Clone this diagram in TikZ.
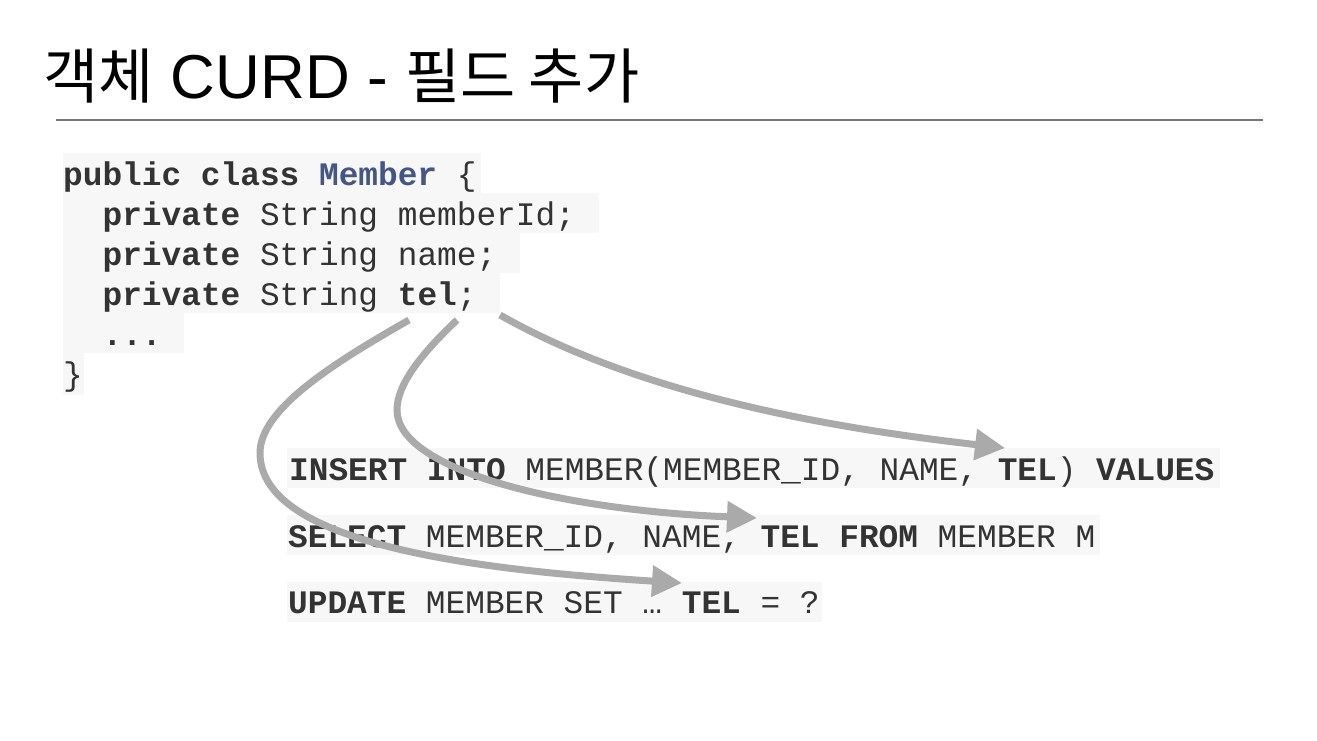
\documentclass[tikz,border=0pt]{standalone}
\usepackage{fontspec}
\setmainfont{Liberation Sans}
\setmonofont{Liberation Mono}
\newfontfamily\krfont{Noto Sans CJK KR}
\usetikzlibrary{arrows.meta}
\definecolor{codebg}{RGB}{247,247,247}
\definecolor{codetext}{RGB}{51,51,51}
\definecolor{classblue}{RGB}{68,85,136}
\definecolor{arrowgray}{RGB}{170,170,170}
\definecolor{rulegray}{RGB}{120,120,120}
\tikzset{
  codeline/.style={anchor=base west, inner sep=0pt, text=codetext,
    font=\ttfamily\fontsize{32.8}{40}\selectfont},
  bgbox/.style={fill=codebg, draw=none},
  tellink/.style={draw=arrowgray, line width=7pt,
    -{Triangle[length=30pt,width=30pt]}},
  titletext/.style={anchor=base west, inner sep=0pt, text=black,
    font=\fontsize{62}{70}\selectfont}
}
\begin{document}
\begin{tikzpicture}[x=1pt,y=-1pt]
\useasboundingbox (0,0) rectangle (1317,740);
% title
\node[titletext] (title) at (43,98) {{\krfont\fontsize{60}{70}\selectfont 객체} CURD - {\krfont\fontsize{60}{70}\selectfont 필드 추가}};
\draw[rulegray, line width=1.5pt] (56,120) -- (1263,120);
% code backgrounds
\fill[bgbox] (63,153) rectangle (481,193);
\fill[bgbox] (63,193) rectangle (599,233);
\fill[bgbox] (63,233) rectangle (520,273);
\fill[bgbox] (63,273) rectangle (500,313);
\fill[bgbox] (63,313) rectangle (184,353);
\fill[bgbox] (63,353) rectangle (84,395);
% code text
\node[codeline] (c1) at (63,185) {\textbf{public class} \textcolor{classblue}{\textbf{Member}} \{};
\node[codeline] (c2) at (102.4,225) {\textbf{private} String memberId;};
\node[codeline] (c3) at (102.4,265) {\textbf{private} String name;};
\node[codeline] (c4) at (102.4,305) {\textbf{private} String \textbf{tel};};
\node[codeline] (c5) at (102.4,345) {\textbf{...}};
\node[codeline] (c6) at (63,385) {\}};
% sql backgrounds
\fill[bgbox] (287,448) rectangle (1220,488);
\fill[bgbox] (287,515) rectangle (1100,555);
\fill[bgbox] (287,582) rectangle (822,622);
% sql text
\node[codeline] (s1) at (289,480) {\textbf{INSERT INTO} MEMBER(MEMBER\_ID, NAME, \textbf{TEL}) \textbf{VALUES}};
\node[codeline] (s2) at (288,547) {\textbf{SELECT} MEMBER\_ID, NAME, \textbf{TEL FROM} MEMBER M};
\node[codeline] (s3) at (288,613) {\textbf{UPDATE} MEMBER SET … \textbf{TEL} = ?};
% connector ends
\coordinate (telA) at (409,320);
\coordinate (telB) at (457,320);
\coordinate (telC) at (500,315);
\coordinate (insTel) at (1005,448);
\coordinate (selTel) at (757,518);
\coordinate (updTel) at (682,583);
% arrows
\draw[tellink] (telC) .. controls (650,400) and (850,430) .. (insTel);
\draw[tellink] (telB) .. controls (420,355) and (397,385) .. (397,410) .. controls (397,470) and (560,510) .. (selTel);
\draw[tellink] (telA) .. controls (330,365) and (260,410) .. (260,453) .. controls (260,545) and (480,570) .. (updTel);
\end{tikzpicture}
\end{document}
